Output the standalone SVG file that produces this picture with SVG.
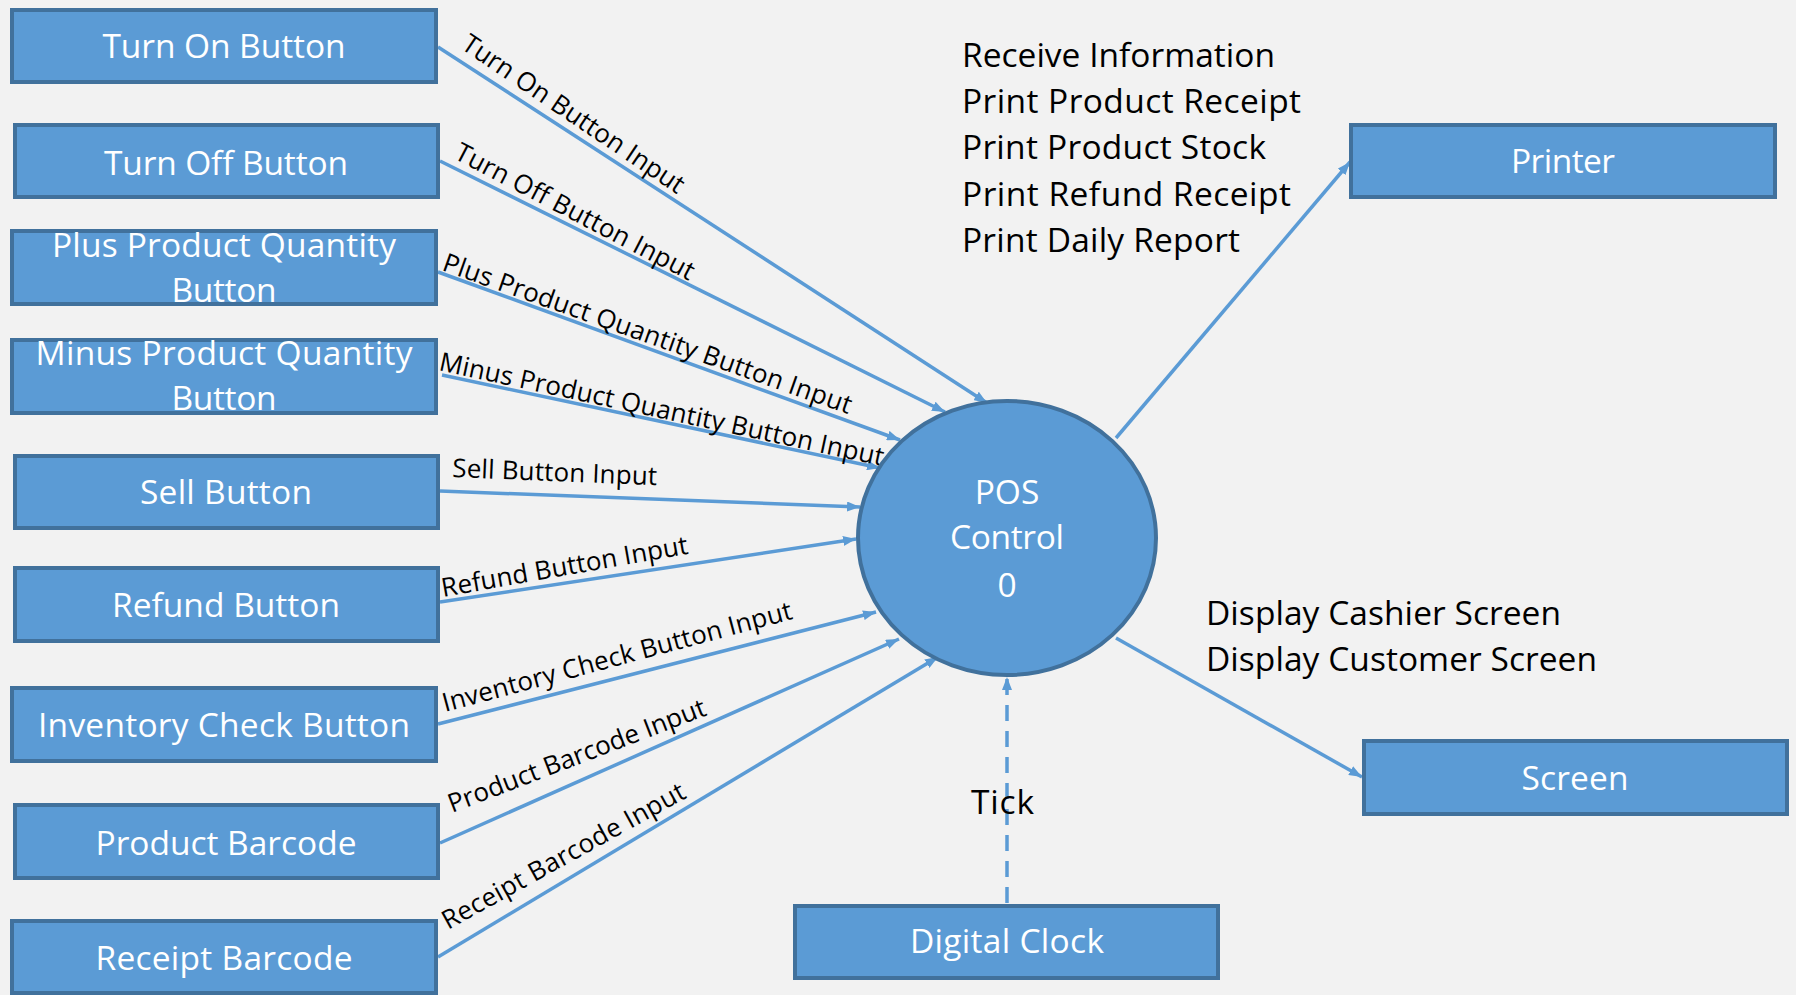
<svg xmlns="http://www.w3.org/2000/svg" width="1796" height="995" viewBox="0 0 1796 995">
<defs>
<style>
.box{fill:#5B9BD5;stroke:#41719C;stroke-width:4}
.bt{font-family:"Open Sans","Liberation Sans",sans-serif;font-size:33.5px;fill:#FFFFFF;text-anchor:middle}
.tx{font-family:"Open Sans","Liberation Sans",sans-serif;font-size:33.5px;fill:#000000}
.lb{font-family:"Open Sans","Liberation Sans",sans-serif;font-size:26px;fill:#000000}
.cn{stroke:#5B9BD5;stroke-width:3.5;fill:none;marker-end:url(#ah)}
</style>
<marker id="ah" markerUnits="userSpaceOnUse" markerWidth="13" markerHeight="10" refX="13" refY="5" orient="auto">
<path d="M0,0 L13,5 L0,10 z" fill="#5B9BD5"/>
</marker>
</defs>
<rect x="0" y="0" width="1796" height="995" fill="#F2F2F2"/>

<g id="connectors">
<line class="cn" x1="438" y1="47" x2="987" y2="403"/>
<line class="cn" x1="440" y1="161" x2="945" y2="412"/>
<line class="cn" x1="438" y1="272" x2="900" y2="440"/>
<line class="cn" x1="442" y1="375" x2="880" y2="468"/>
<line class="cn" x1="440" y1="491" x2="860" y2="507"/>
<line class="cn" x1="440" y1="602" x2="856" y2="539"/>
<line class="cn" x1="438" y1="724" x2="876" y2="612"/>
<line class="cn" x1="440" y1="843" x2="899" y2="639"/>
<line class="cn" x1="438" y1="957" x2="938" y2="657"/>
<line class="cn" x1="1116" y1="438" x2="1350" y2="162"/>
<line class="cn" x1="1116" y1="638" x2="1362" y2="777"/>
<line class="cn" x1="1007" y1="903" x2="1007" y2="677" stroke-dasharray="16,10"/>
<text class="lb" transform="translate(460,48) rotate(34)" textLength="262">Turn On Button Input</text>
<text class="lb" transform="translate(453,158) rotate(27.5)" textLength="266">Turn Off Button Input</text>
<text class="lb" transform="translate(441,270) rotate(19.5)" textLength="432">Plus Product Quantity Button Input</text>
<text class="lb" transform="translate(438,370) rotate(12.2)" textLength="454">Minus Product Quantity Button Input</text>
<text class="lb" transform="translate(452,477) rotate(2.3)" textLength="205">Sell Button Input</text>
<text class="lb" transform="translate(443,597) rotate(-10)" textLength="250">Refund Button Input</text>
<text class="lb" transform="translate(445,712) rotate(-15)" textLength="361">Inventory Check Button Input</text>
<text class="lb" transform="translate(452,813) rotate(-21)" textLength="274">Product Barcode Input</text>
<text class="lb" transform="translate(448,930) rotate(-29)" textLength="274">Receipt Barcode Input</text>
<text class="tx" x="971" y="814" textLength="63">Tick</text>
</g>

<g id="turn-on-button"><rect class="box" x="12" y="10" width="424" height="72"/><text class="bt" x="224" y="58" textLength="243">Turn On Button</text></g>
<g id="turn-off-button"><rect class="box" x="15" y="125" width="423" height="72"/><text class="bt" x="226" y="175" textLength="244">Turn Off Button</text></g>
<g id="plus-product-quantity-button"><rect class="box" x="12" y="231" width="424" height="73"/><text class="bt" x="224" y="257" textLength="344">Plus Product Quantity</text><text class="bt" x="224" y="302" textLength="105">Button</text></g>
<g id="minus-product-quantity-button"><rect class="box" x="12" y="340" width="424" height="73"/><text class="bt" x="224" y="365" textLength="377">Minus Product Quantity</text><text class="bt" x="224" y="410" textLength="105">Button</text></g>
<g id="sell-button"><rect class="box" x="15" y="456" width="423" height="72"/><text class="bt" x="226" y="504" textLength="172">Sell Button</text></g>
<g id="refund-button"><rect class="box" x="15" y="568" width="423" height="73"/><text class="bt" x="226" y="617" textLength="228">Refund Button</text></g>
<g id="inventory-check-button"><rect class="box" x="12" y="688" width="424" height="73"/><text class="bt" x="224" y="737" textLength="372">Inventory Check Button</text></g>
<g id="product-barcode"><rect class="box" x="15" y="805" width="423" height="73"/><text class="bt" x="226" y="855" textLength="261">Product Barcode</text></g>
<g id="receipt-barcode"><rect class="box" x="12" y="921" width="424" height="72"/><text class="bt" x="224" y="970" textLength="257">Receipt Barcode</text></g>

<g id="pos-control">
<ellipse cx="1007" cy="538" rx="149" ry="137" fill="#5B9BD5" stroke="#41719C" stroke-width="4"/>
<text class="bt" x="1007" y="504">POS</text>
<text class="bt" x="1007" y="549" textLength="114">Control</text>
<text class="bt" x="1007" y="597">0</text>
</g>

<g id="printer"><rect class="box" x="1351" y="125" width="424" height="72"/><text class="bt" x="1563" y="173" textLength="104">Printer</text></g>
<g id="screen"><rect class="box" x="1364" y="741" width="423" height="73"/><text class="bt" x="1575" y="790" textLength="107">Screen</text></g>
<g id="digital-clock"><rect class="box" x="795" y="906" width="423" height="72"/><text class="bt" x="1007" y="953" textLength="194">Digital Clock</text></g>

<g id="printer-notes">
<text class="tx" x="962" y="67" textLength="313">Receive Information</text>
<text class="tx" x="962" y="113" textLength="339">Print Product Receipt</text>
<text class="tx" x="962" y="159" textLength="304">Print Product Stock</text>
<text class="tx" x="962" y="206" textLength="329">Print Refund Receipt</text>
<text class="tx" x="962" y="252" textLength="278">Print Daily Report</text>
</g>
<g id="screen-notes">
<text class="tx" x="1206" y="625" textLength="355">Display Cashier Screen</text>
<text class="tx" x="1206" y="671" textLength="391">Display Customer Screen</text>
</g>
</svg>
